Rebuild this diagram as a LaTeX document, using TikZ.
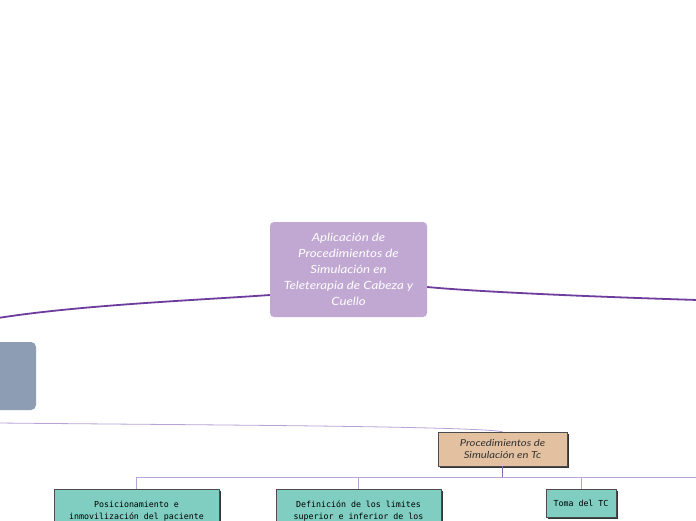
\documentclass[tikz,border=0pt]{standalone}
\usepackage{fontspec}
\setmainfont{Lato}
\newfontfamily\widef[FakeStretch=1.17]{Lato}
\newfontfamily\monof{DejaVu Sans Mono}
\usetikzlibrary{shadows}
\definecolor{mainpurple}{HTML}{C1A8D3}
\definecolor{thickline}{HTML}{6D3C9C}
\definecolor{thinline}{HTML}{B8A2D6}
\definecolor{grayblue}{HTML}{8C9DB4}
\definecolor{tan}{HTML}{E3C0A0}
\definecolor{teal}{HTML}{7FCEC1}
\definecolor{txtdark}{HTML}{333333}
\tikzset{
  mainbox/.style={fill=mainpurple, rounded corners=4pt, text=white, align=center,
    font=\widef\itshape\fontsize{11.3}{16}\selectfont, inner sep=0pt},
  procbox/.style={fill=tan, draw=black!70, line width=0.6pt, text=txtdark, align=center,
    font=\widef\itshape\fontsize{9.6}{12.5}\selectfont, inner sep=0pt,
    drop shadow={shadow xshift=2pt, shadow yshift=-2pt, fill=black!80, opacity=1}},
  tealbox/.style={fill=teal, draw=black!70, line width=0.6pt, text=black, align=center,
    font=\monof\fontsize{8.3}{12.5}\selectfont, inner sep=0pt,
    drop shadow={shadow xshift=2pt, shadow yshift=-2pt, fill=black!80, opacity=1}},
  thick link/.style={draw=thickline, line width=1.8pt},
  thin link/.style={draw=thinline, line width=0.8pt},
  stem link/.style={draw=thickline!80, line width=1pt},
}
\begin{document}
\begin{tikzpicture}[x=1pt, y=-1pt]
\useasboundingbox (0,0) rectangle (696,520);
\clip (0,0) rectangle (696,520);
\fill[white] (0,0) rectangle (696,520);

% central node
\node[mainbox, minimum width=157pt, minimum height=95pt] (main) at (348.5,269.5)
  {Aplicación de\\Procedimientos de\\Simulación en\\Teleterapia de Cabeza y\\Cuello};

% left gray node (partly off-page)
\node[fill=grayblue, rounded corners=5pt, minimum width=60pt, minimum height=68pt, inner sep=0pt] (gray) at (6,376) {};

% off-page ends
\coordinate (leftend) at (-2,318);
\coordinate (rightend) at (698,300);
\coordinate (thinstart) at (-2,423);

% procedimientos node
\node[procbox, minimum width=129pt, minimum height=34pt] (proc) at (502.5,449)
  {Procedimientos de\\Simulación en Tc};

% teal boxes
\node[tealbox, minimum width=165pt, minimum height=58pt, anchor=north] (b1) at (136.5,489)
  {Posicionamiento e\\inmovilización del paciente\\\strut};
\node[tealbox, minimum width=165pt, minimum height=58pt, anchor=north] (b2) at (358.5,489)
  {Definición de los limites\\superior e inferior de los\\\strut};
\node[tealbox, minimum width=70pt, minimum height=28pt, anchor=north] (b3) at (581,489)
  {Toma del TC};

% thick connectors
\draw[thick link] (main.west |- 0,295) .. controls (200,300) and (80,305) .. (leftend);
\draw[thick link] (main.east |- 0,287) .. controls (480,292) and (600,297) .. (rightend);

% thin connector to proc
\draw[thin link] (thinstart) .. controls (200,425) and (470,426) .. (proc.north);

% branch bus
\coordinate (bus) at (502.5,477);
\draw[stem link] (proc.south) -- (bus);
\draw[thin link] (bus) -| (b1.north);
\draw[thin link] (bus) -| (b2.north);
\draw[thin link] (bus) -| (b3.north);
\coordinate (busend) at (698,477);
\draw[thin link] (bus) -- (busend);
\end{tikzpicture}
\end{document}
